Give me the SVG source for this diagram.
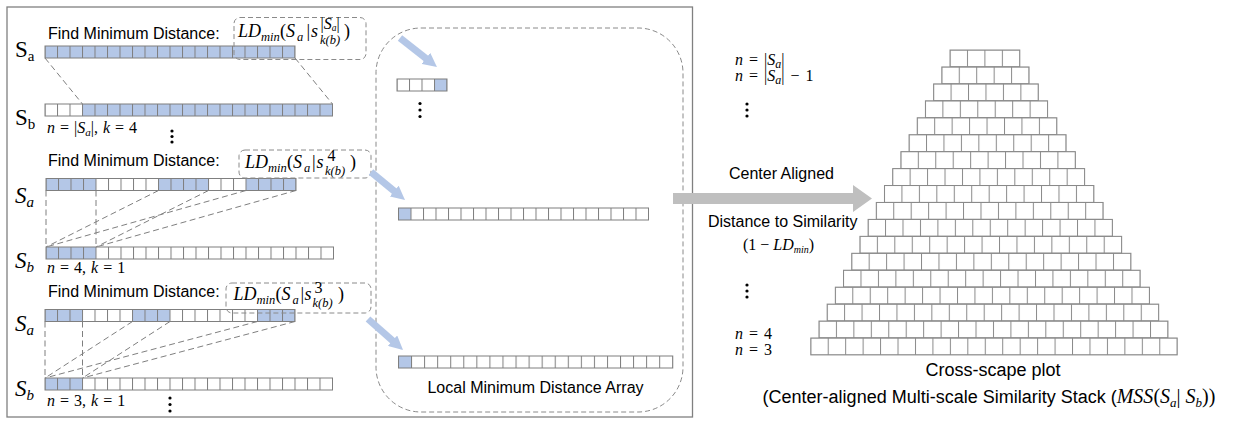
<svg xmlns="http://www.w3.org/2000/svg" width="1234" height="423" viewBox="0 0 1234 423">
<defs>
<style>
.bg{fill:#fff}
.bl{fill:#b4c7e7}
.g1{fill:url(#g125)}
.g2{fill:url(#g1306)}
.ol{fill:none;stroke:#7f7f7f;stroke-width:1}
.pc{fill:url(#gp);stroke:#8a8a8a;stroke-width:1}
.dl{fill:none;stroke:#7f7f7f;stroke-width:1;stroke-dasharray:6 3.5}
.db{fill:none;stroke:#8a8a8a;stroke-width:1;stroke-dasharray:5 3}
.ba{stroke:#b4c7e7;stroke-width:7;fill:none;marker-end:url(#bh)}
.lbl{font-family:"Liberation Sans",Arial,sans-serif;font-size:16px;fill:#000}
.cap{font-family:"Liberation Sans",Arial,sans-serif;font-size:18px;fill:#000}
.sl{font-family:"Liberation Serif","Times New Roman",serif;font-size:23px;fill:#000}
.mt{font-family:"Liberation Serif","Times New Roman",serif;font-size:16px;fill:#000}
.m{font-family:"Liberation Serif","Times New Roman",serif;font-size:18px;font-style:italic;fill:#000}
.mu{font-family:"Liberation Serif","Times New Roman",serif;font-size:18px;fill:#000}
.ms{font-family:"Liberation Serif","Times New Roman",serif;font-size:12.5px;font-style:italic;fill:#000}
.i{font-style:italic}
.dot{fill:#000}
</style>
<pattern id="g125" patternUnits="userSpaceOnUse" x="-0.5" y="0" width="12.5" height="12"><path d="M0.5,0V12" stroke="#7f7f7f" stroke-width="1"/></pattern>
<pattern id="g1306" patternUnits="userSpaceOnUse" x="-0.5" y="0" width="13.06" height="12"><path d="M0.5,0V12" stroke="#7f7f7f" stroke-width="1"/></pattern>
<pattern id="gp" patternUnits="userSpaceOnUse" x="-0.5" y="-0.5" width="17.45" height="16.94"><rect width="17.45" height="16.94" fill="#fff"/><path d="M0.5,0V16.94M0,0.5H17.45" stroke="#8a8a8a" stroke-width="1"/></pattern>
<marker id="bh" markerUnits="userSpaceOnUse" markerWidth="14" markerHeight="14" viewBox="0 0 14 14" refX="3" refY="7" orient="auto"><path d="M0,0L14,7L0,14z" fill="#b4c7e7"/></marker>
</defs>
<rect width="1234" height="423" fill="#fff"/>

<g id="left-panel">
<rect x="7" y="7" width="685.5" height="410" fill="none" stroke="#808080" stroke-width="1.3"/>
</g>

<g id="row1">
<text class="lbl" x="48" y="38.5">Find Minimum Distance:</text>
<text class="sl" x="15" y="57">S<tspan font-size="15" dy="4">a</tspan></text>
<text class="sl" x="15" y="125">S<tspan font-size="15" dy="4">b</tspan></text>
<g transform="translate(45,46)"><rect class="bl" width="250" height="12"/><rect class="g1" width="250" height="12"/><rect class="ol" width="250" height="12"/></g>
<g transform="translate(45,104)"><rect class="bg" width="287.5" height="12"/><rect class="bl" x="37.5" width="250" height="12"/><rect class="g1" width="287.5" height="12"/><rect class="ol" width="287.5" height="12"/></g>
<text class="mt" x="47" y="133" word-spacing="1"><tspan class="i">n</tspan> = |<tspan class="i">S</tspan><tspan class="i" font-size="11" dy="3">a</tspan><tspan dy="-3">|, </tspan><tspan class="i">k</tspan> = 4</text>
<circle class="dot" cx="172" cy="131" r="1.6"/><circle class="dot" cx="172" cy="136.5" r="1.6"/><circle class="dot" cx="172" cy="142" r="1.6"/>
<g id="formula1">
<rect class="db" x="234" y="17.5" width="132" height="42" rx="6"/>
<text class="m" x="238" y="37">LD</text>
<text class="ms" x="261" y="40.5">min</text>
<text class="mu" x="280" y="37">(</text>
<text class="m" x="286" y="37">S</text>
<text class="ms" x="297" y="40.5">a</text>
<text class="mu" x="306.5" y="37">|</text>
<text class="m" x="311" y="37">s</text>
<text class="mt" font-size="13" x="320.5" y="29">|<tspan class="i">S</tspan><tspan class="i" font-size="9.5" dy="2">a</tspan><tspan dy="-2">|</tspan></text>
<text class="ms" x="320" y="43.5">k(b)</text>
<text class="mu" x="344" y="37">)</text>
</g>
</g>

<g id="row2">
<text class="lbl" x="48" y="166">Find Minimum Distance:</text>
<text class="sl i" x="15" y="203">S<tspan font-size="15" dy="4">a</tspan></text>
<text class="sl i" x="15" y="268">S<tspan font-size="15" dy="4">b</tspan></text>
<g transform="translate(46,178.5)"><rect class="bg" width="250" height="12"/><rect class="bl" width="50" height="12"/><rect class="bl" x="112.5" width="50" height="12"/><rect class="bl" x="200" width="50" height="12"/><rect class="g1" width="250" height="12"/><rect class="ol" width="250" height="12"/></g>
<g transform="translate(46,247)"><rect class="bg" width="287.5" height="12"/><rect class="bl" width="50" height="12"/><rect class="g1" width="287.5" height="12"/><rect class="ol" width="287.5" height="12"/></g>
<text class="mt" x="47" y="273" word-spacing="1"><tspan class="i">n</tspan> = 4, <tspan class="i">k</tspan> = 1</text>
<g id="formula2">
<rect class="db" x="239" y="150" width="132" height="28" rx="6"/>
<text class="m" x="245" y="168">LD</text>
<text class="ms" x="268" y="171.5">min</text>
<text class="mu" x="287" y="168">(</text>
<text class="m" x="293" y="168">S</text>
<text class="ms" x="304" y="171.5">a</text>
<text class="mu" x="312" y="168">|</text>
<text class="m" x="316.5" y="168">s</text>
<text class="mt" font-size="13" x="327.5" y="161">4</text>
<text class="ms" x="325" y="174.5">k(b)</text>
<text class="mu" x="350" y="168">)</text>
</g>
</g>

<g id="row3">
<text class="lbl" x="48" y="297">Find Minimum Distance:</text>
<text class="sl i" x="15" y="331">S<tspan font-size="15" dy="4">a</tspan></text>
<text class="sl i" x="15" y="396">S<tspan font-size="15" dy="4">b</tspan></text>
<g transform="translate(45,309.5)"><rect class="bg" width="250" height="12"/><rect class="bl" width="37.5" height="12"/><rect class="bl" x="87.5" width="37.5" height="12"/><rect class="bl" x="212.5" width="37.5" height="12"/><rect class="g1" width="250" height="12"/><rect class="ol" width="250" height="12"/></g>
<g transform="translate(45,378)"><rect class="bg" width="287.5" height="12"/><rect class="bl" width="37.5" height="12"/><rect class="g1" width="287.5" height="12"/><rect class="ol" width="287.5" height="12"/></g>
<text class="mt" x="47" y="406" word-spacing="1"><tspan class="i">n</tspan> = 3, <tspan class="i">k</tspan> = 1</text>
<circle class="dot" cx="170" cy="398" r="1.6"/><circle class="dot" cx="170" cy="404.5" r="1.6"/><circle class="dot" cx="170" cy="411" r="1.6"/>
<g id="formula3">
<rect class="db" x="226" y="283" width="145" height="30" rx="6"/>
<text class="m" x="233.5" y="300">LD</text>
<text class="ms" x="256.5" y="303.5">min</text>
<text class="mu" x="275.5" y="300">(</text>
<text class="m" x="281.5" y="300">S</text>
<text class="ms" x="292.5" y="303.5">a</text>
<text class="mu" x="300.5" y="300">|</text>
<text class="m" x="304.5" y="300">s</text>
<text class="mt" font-size="13" x="314.5" y="293">3</text>
<text class="ms" x="312.5" y="306.5">k(b)</text>
<text class="mu" x="338" y="300">)</text>
</g>
</g>

<g id="local-min-array">
<rect class="db" x="376" y="28" width="307" height="384" rx="45"/>
<g transform="translate(397,79)"><rect class="bg" width="50" height="12"/><rect class="bl" x="37.5" width="12.5" height="12"/><rect class="g1" width="50" height="12"/><rect class="ol" width="50" height="12"/></g>
<circle class="dot" cx="420" cy="103.5" r="1.6"/><circle class="dot" cx="420" cy="110" r="1.6"/><circle class="dot" cx="420" cy="116.5" r="1.6"/>
<g transform="translate(398.5,208)"><rect class="bg" width="250" height="12"/><rect class="bl" width="12.5" height="12"/><rect class="g1" width="250" height="12"/><rect class="ol" width="250" height="12"/></g>
<g transform="translate(398.5,356)"><rect class="bg" width="274.26" height="12"/><rect class="bl" width="13.06" height="12"/><rect class="g2" width="274.26" height="12"/><rect class="ol" width="274.26" height="12"/></g>
<text class="lbl" x="535.5" y="393" text-anchor="middle">Local Minimum Distance Array</text>
</g>

<g id="connectors">
<path class="dl" d="M45,58L82.5,104M295,58L332.5,104"/>
<path class="dl" d="M46,190.5V247M96,190.5V247M158.5,190.5L46,247M208.5,190.5L96,247M246,190.5L46,247M296,190.5L96,247"/>
<path class="dl" d="M45,321.5V378M82.5,321.5V378M132.5,321.5L45,378M170,321.5L82.5,378M257.5,321.5L45,378M295,321.5L82.5,378"/>
<line class="ba" x1="400" y1="38" x2="428.3" y2="60.2"/>
<line class="ba" x1="371" y1="172" x2="396.5" y2="193"/>
<line class="ba" x1="368" y1="319" x2="394.8" y2="342.7"/>
<polygon points="673,193 853,193 853,185 872,198.5 853,212 853,204 673,204" fill="#bfbfbf"/>
</g>

<g id="transform-labels">
<text class="lbl" x="729" y="179">Center Aligned</text>
<text class="lbl" x="708" y="227">Distance to Similarity</text>
<text class="mt" font-size="14" x="743" y="250">(1 − <tspan class="i">LD</tspan><tspan class="i" font-size="10" dy="3">min</tspan><tspan dy="-3">)</tspan></text>
</g>

<g id="row-labels">
<text class="mt" font-size="18" x="735" y="65" word-spacing="2"><tspan class="i">n</tspan> = |<tspan class="i">S</tspan><tspan class="i" font-size="12" dy="3">a</tspan><tspan dy="-3">|</tspan></text>
<text class="mt" font-size="18" x="735" y="81" word-spacing="2"><tspan class="i">n</tspan> = |<tspan class="i">S</tspan><tspan class="i" font-size="12" dy="3">a</tspan><tspan dy="-3">| − 1</tspan></text>
<circle class="dot" cx="747" cy="104" r="1.6"/><circle class="dot" cx="747" cy="110" r="1.6"/><circle class="dot" cx="747" cy="116" r="1.6"/>
<circle class="dot" cx="747" cy="285" r="1.6"/><circle class="dot" cx="747" cy="291" r="1.6"/><circle class="dot" cx="747" cy="297" r="1.6"/>
<text class="mt" font-size="18" x="735" y="339" word-spacing="2"><tspan class="i">n</tspan> = 4</text>
<text class="mt" font-size="18" x="735" y="355" word-spacing="2"><tspan class="i">n</tspan> = 3</text>
</g>

<g id="cross-scape-plot">
<rect class="pc" transform="translate(950,50)" width="69.8" height="16.94"/>
<rect class="pc" transform="translate(941.81,66.94)" width="87.25" height="16.94"/>
<rect class="pc" transform="translate(933.62,83.88)" width="104.7" height="16.94"/>
<rect class="pc" transform="translate(925.43,100.82)" width="122.15" height="16.94"/>
<rect class="pc" transform="translate(917.24,117.76)" width="139.6" height="16.94"/>
<rect class="pc" transform="translate(909.05,134.7)" width="157.05" height="16.94"/>
<rect class="pc" transform="translate(900.86,151.64)" width="174.5" height="16.94"/>
<rect class="pc" transform="translate(892.67,168.58)" width="191.95" height="16.94"/>
<rect class="pc" transform="translate(884.48,185.52)" width="209.4" height="16.94"/>
<rect class="pc" transform="translate(876.29,202.46)" width="226.85" height="16.94"/>
<rect class="pc" transform="translate(868.1,219.4)" width="244.3" height="16.94"/>
<rect class="pc" transform="translate(859.91,236.34)" width="261.75" height="16.94"/>
<rect class="pc" transform="translate(851.72,253.28)" width="279.2" height="16.94"/>
<rect class="pc" transform="translate(843.53,270.22)" width="296.65" height="16.94"/>
<rect class="pc" transform="translate(835.34,287.16)" width="314.1" height="16.94"/>
<rect class="pc" transform="translate(827.15,304.1)" width="331.55" height="16.94"/>
<rect class="pc" transform="translate(818.96,321.04)" width="349" height="16.94"/>
<rect class="pc" transform="translate(810.77,337.98)" width="366.45" height="16.94"/>
<text class="cap" x="993" y="376" text-anchor="middle">Cross-scape plot</text>
<text class="cap" x="989" y="403" text-anchor="middle">(Center-aligned Multi-scale Similarity Stack (<tspan font-family="Liberation Serif, serif" font-size="20" font-style="italic">MSS</tspan><tspan font-family="Liberation Serif, serif" font-size="20">(</tspan><tspan font-family="Liberation Serif, serif" font-size="20" font-style="italic">S</tspan><tspan font-family="Liberation Serif, serif" font-style="italic" font-size="13" dy="4">a</tspan><tspan font-family="Liberation Serif, serif" font-size="20" dy="-4">| </tspan><tspan font-family="Liberation Serif, serif" font-size="20" font-style="italic">S</tspan><tspan font-family="Liberation Serif, serif" font-style="italic" font-size="13" dy="4">b</tspan><tspan font-family="Liberation Serif, serif" font-size="20" dy="-4">))</tspan></text>
</g>
</svg>
